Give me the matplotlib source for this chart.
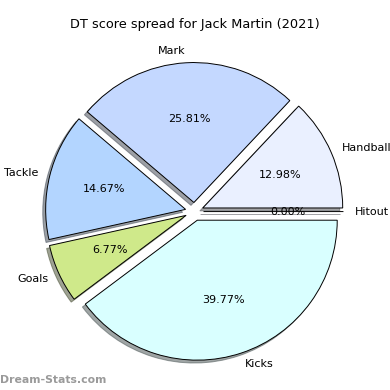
import matplotlib
matplotlib.use("Agg")
import matplotlib.pyplot as plt

# score spread values (percent)
categories = ["Handball", "Mark", "Tackle", "Goals", "Kicks", "Hitout"]
shares = [12.98, 25.81, 14.67, 6.77, 39.77, 0.0]
colours = ["#eaf0ff", "#c4d8ff", "#b3d5ff", "#cfe98a", "#d9ffff", "#e0e0ff"]

fig = plt.figure(figsize=(3.9, 3.9), dpi=100)
ax = fig.add_axes([0.05, 0.009, 0.897, 0.897])

wedges, texts, autotexts = ax.pie(
    shares, labels=categories, colors=colours, autopct="%1.2f%%",
    startangle=0, counterclock=True, explode=[0.065] * len(shares),
    shadow={"ox": -0.015, "oy": -0.015}, labeldistance=1.085, pctdistance=0.6,
    wedgeprops={"edgecolor": "black", "linewidth": 0.7},
    textprops={"fontsize": 8})
ax.set_aspect("equal")

fig.text(0.5, 0.936, "DT score spread for Jack Martin (2021)", ha="center",
         va="center", fontsize=9.3)
fig.text(0.0, 0.025, "Dream-Stats.com", color="#9a9a9a", fontsize=7.8,
         fontweight="bold", ha="left", va="center")

fig.savefig("out.png", dpi=100)
